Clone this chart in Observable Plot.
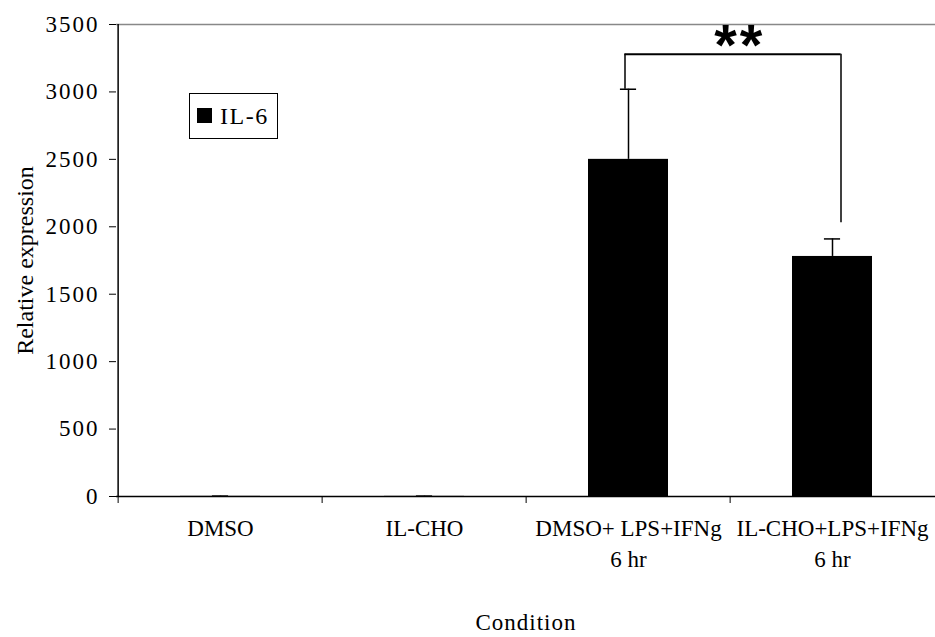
<!DOCTYPE html>
<html>
<head>
<meta charset="utf-8">
<script src="https://cdn.jsdelivr.net/npm/d3@7"></script>
<script src="https://cdn.jsdelivr.net/npm/@observablehq/plot@0.6"></script>
<style>
  body { margin: 0; background: #fff; }
  #wrap { position: relative; width: 935px; height: 637px; font-family: "Liberation Serif", "Times New Roman", serif; }
  #legend { position: absolute; left: 189px; top: 93px; width: 89px; height: 46px; border: 1px solid #000; background: #fff; box-sizing: border-box; }
  #legend .sw { position: absolute; left: 7px; top: 14px; width: 15px; height: 15px; background: #000; }
  #legend .lb { position: absolute; left: 30px; top: 8px; font-size: 24px; line-height: 28px; color: #000; letter-spacing: 1.5px; }
  [aria-label="y-axis tick label"] text { letter-spacing: 2px; }
  [aria-label="x-axis label"] text { letter-spacing: 1px; }
  .sig text { letter-spacing: 3px; }
</style>
</head>
<body>
<div id="wrap"></div>
<script>
// ---- data ----
const conditions = ["DMSO", "IL-CHO", "DMSO+ LPS+IFNg\n6 hr", "IL-CHO+LPS+IFNg\n6 hr"];
const means = [1, 1, 2500, 1780];
const errors = [2, 2, 520, 130];
const yTicks = [0, 500, 1000, 1500, 2000, 2500, 3000, 3500];
const yLabel = "Relative expression";
const xLabel = "Condition";
const seriesName = "IL-6";
const sigLabel = "**";
const bracketTop = 3280;       // height of the significance bracket
const bracketLeftEnd = 3020;   // left leg ends at this value
const bracketRightEnd = 2030;  // right leg ends at this value
const bracketPair = [conditions[2], conditions[3]];

const rows = conditions.map((c, i) => ({condition: c, mean: means[i], err: errors[i]}));

const W = 935, H = 637, mL = 116, mR = 0, mT = 24, mB = 141;
const step = (W - mL - mR) / conditions.length;
const padInner = 0.61;
const bw = step * (1 - padInner);
const tickLen = 7 * 3500 / (H - mT - mB); // 7px in data units

const chart = Plot.plot({
  width: W,
  height: H,
  marginLeft: mL,
  marginRight: mR,
  marginTop: mT,
  marginBottom: mB,
  style: {fontFamily: "Liberation Serif, Times New Roman, serif", fontSize: "22px", color: "#000", background: "#fff"},
  x: {domain: conditions, paddingInner: padInner, paddingOuter: padInner / 2},
  y: {domain: [0, 3500]},
  marks: [
    // top border
    Plot.ruleY([3500], {stroke: "#888", strokeWidth: 1.5}),
    // bars
    Plot.barY(rows, {x: "condition", y: "mean", fill: "#000"}),
    // error bars
    Plot.ruleX(rows, {x: "condition", y1: "mean", y2: d => d.mean + d.err, stroke: "#000", strokeWidth: 1.5}),
    Plot.tickY(rows, {x: "condition", y: d => d.mean + d.err, stroke: "#000", strokeWidth: 1.5, inset: bw / 2 - 8}),
    // baseline
    Plot.ruleY([0], {stroke: "#000", strokeWidth: 1.5}),
    // y axis line (at first category boundary)
    Plot.ruleX([conditions[0]], {dx: -step / 2, y1: 0, y2: 3500, stroke: "#000", strokeWidth: 1.5}),
    // x category boundary ticks
    Plot.ruleX(conditions, {dx: -step / 2, y1: 0, y2: -tickLen, stroke: "#000", strokeWidth: 1}),
    // significance bracket
    Plot.ruleX([bracketPair[0]], {dx: -3.5, y1: bracketLeftEnd, y2: bracketTop, stroke: "#000", strokeWidth: 1.5}),
    Plot.ruleX([bracketPair[1]], {dx: 8.5, y1: bracketRightEnd, y2: bracketTop, stroke: "#000", strokeWidth: 1.5}),
    Plot.ruleY([bracketTop], {x1: () => bracketPair[0], x2: () => bracketPair[1], y: d => d,
      insetLeft: bw / 2 - 3.5, insetRight: bw / 2 - 8.5, stroke: "#000", strokeWidth: 2}),
    Plot.text([sigLabel], {x: () => bracketPair[0], y: () => bracketTop, dx: step / 2 + 9, dy: -8, text: d => d,
      className: "sig", fontFamily: "Liberation Sans, Arial, sans-serif", fontWeight: "bold", fontSize: 58, fill: "#000"}),
    // axes
    Plot.axisY({ticks: yTicks, tickSize: 7, tickPadding: 10, fontSize: 23, tickFormat: d => String(d), label: null}),
    Plot.text([yLabel], {frameAnchor: "left", rotate: -90, dx: -91, textAnchor: "middle", text: d => d, fontSize: 24, fill: "#000"}),
    Plot.axisX({tickSize: 0, tickPadding: 17, fontSize: 23, lineHeight: 1.35,
      label: xLabel, labelAnchor: "center", labelOffset: 133})
  ]
});

const wrap = document.getElementById("wrap");
wrap.appendChild(chart);
const leg = document.createElement("div");
leg.id = "legend";
leg.innerHTML = `<div class="sw"></div><div class="lb">${seriesName}</div>`;
wrap.appendChild(leg);
</script>
</body>
</html>
